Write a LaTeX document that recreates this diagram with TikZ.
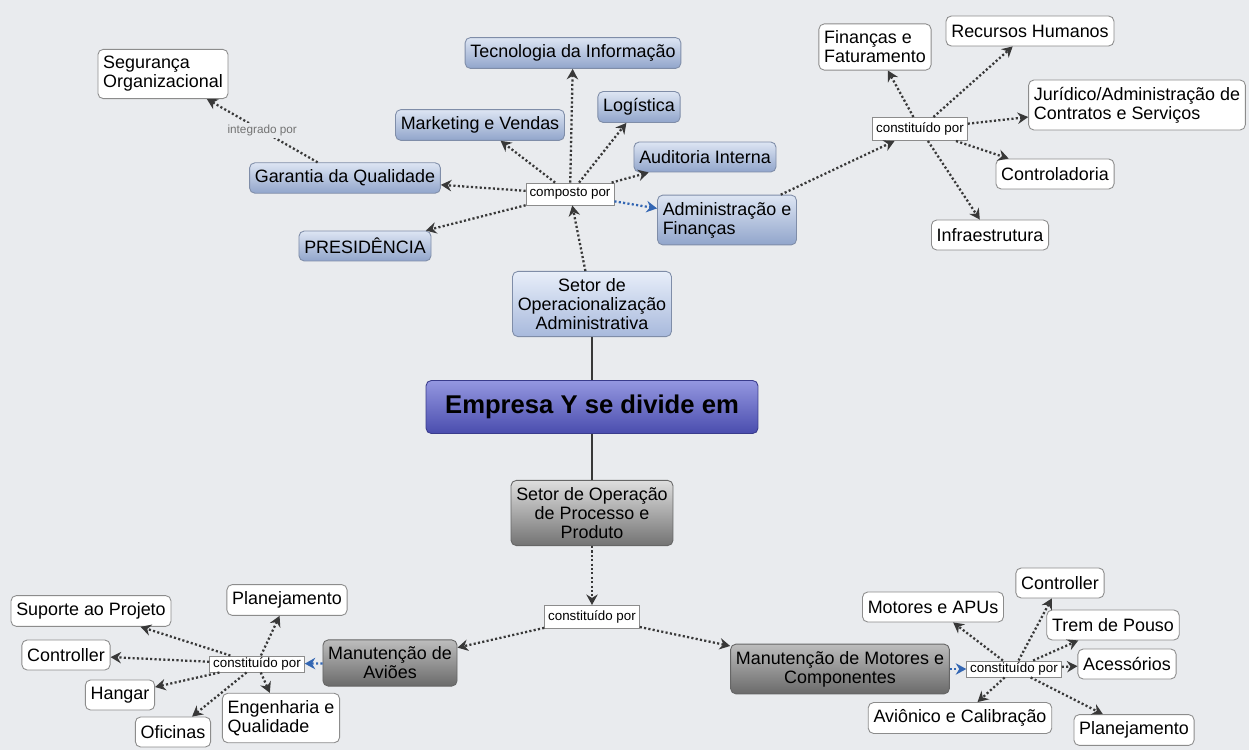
\documentclass[tikz,border=0pt]{standalone}
\usepackage{fontspec}
\setmainfont{Liberation Sans}
\usetikzlibrary{arrows.meta, positioning, shadings}
\definecolor{bgpaper}{HTML}{E9EBEE}
\definecolor{cblueT}{HTML}{DDE5F3}
\definecolor{cblueB}{HTML}{91A5CB}
\definecolor{cblueD}{HTML}{7F8DA8}
\definecolor{csetT}{HTML}{E8EEF9}
\definecolor{csetB}{HTML}{A7B9DC}
\definecolor{cviolT}{HTML}{9497E0}
\definecolor{cviolB}{HTML}{4A4DAE}
\definecolor{cviolD}{HTML}{3A3C8C}
\definecolor{cgreyT}{HTML}{BDBDBD}
\definecolor{cgreyB}{HTML}{6A6A6A}
\definecolor{cline}{HTML}{383838}
\definecolor{clink}{HTML}{3366B3}
\tikzset{
  >=Stealth,
  font=\fontsize{10.2}{10.8}\selectfont,
  concept/.style={
    draw=#1, line width=0.5pt, rounded corners=3pt,
    inner xsep=3pt, inner ysep=4pt, minimum height=0.6cm, align=center
  },
  concept/.default=black!45,
  bluebox/.style={concept=cblueD, top color=cblueT, bottom color=cblueB},
  setbox/.style={concept=cblueD, top color=csetT, bottom color=csetB},
  greybox/.style={concept=black!60, top color=cgreyT, bottom color=cgreyB},
  whitebox/.style={concept, fill=white},
  linkbox/.style={
    draw=black!45, fill=white, line width=0.5pt, inner xsep=2pt, inner ysep=3pt,
    font=\fontsize{7.6}{8}\selectfont
  },
  dotarr/.style={draw=cline, line width=1.3pt, dash pattern=on 1.2pt off 1.3pt,
    -{Stealth[length=6pt,width=6.5pt,inset=2pt]}},
  bluearr/.style={dotarr, draw=clink},
  trunk/.style={draw=cline, line width=1.2pt}
}

\begin{document}
\begin{tikzpicture}[x=0.02cm, y=-0.02cm]
  \fill[bgpaper] (0,0) rectangle (1249,750);
  \useasboundingbox (0,0) rectangle (1249,750);

  % centre
  \node[concept=cviolD, top color=cviolT, bottom color=cviolB,
        minimum width=6.64cm, minimum height=1.06cm,
        font=\fontsize{14.6}{16}\selectfont\bfseries] (empresa) at (592,407) {Empresa Y se divide em};
  \node[setbox] (setadm) at (592,304) {Setor de\\Operacionalização\\Administrativa};
  \node[greybox, top color=black!13, bottom color=black!55] (setproc) at (592,513) {Setor de Operação\\de Processo e\\Produto};
  \draw[trunk] (setadm) -- (empresa);
  \draw[trunk] (empresa) -- (setproc);

  % administrative side
  \node[linkbox] (composto) at (570,194) {composto por};
  \node[bluebox] (tecinfo) at (573,53) {Tecnologia da Informação};
  \node[bluebox] (logist) at (639,107) {Logística};
  \node[bluebox] (mkt) at (480,125) {Marketing e Vendas};
  \node[bluebox] (audit) at (705,157) {Auditoria Interna};
  \node[bluebox, align=left] (admfin) at (727,220) {Administração e\\Finanças};
  \node[bluebox] (garantia) at (345,178) {Garantia da Qualidade};
  \node[bluebox] (presid) at (365,246) {PRESIDÊNCIA};
  \node[whitebox, align=left] (seguranca) at (163,74) {Segurança\\Organizacional};

  \draw[dotarr] (setadm) -- (composto);
  \foreach \dst in {tecinfo, logist, mkt, audit, garantia, presid}
    \draw[dotarr] (composto) -- (\dst);
  \draw[bluearr] (composto) -- (admfin);
  \draw[dotarr] (garantia) -- node[pos=0.5, fill=bgpaper, inner sep=1pt, text=black!55,
    font=\fontsize{6.7}{7}\selectfont] {integrado por} (seguranca);

  \node[linkbox] (constfin) at (920,129) {constituído por};
  \node[whitebox, align=left] (finfat) at (875,47) {Finanças e\\Faturamento};
  \node[whitebox] (rh) at (1030,31) {Recursos Humanos};
  \node[whitebox, align=left] (juridico) at (1137,105) {Jurídico/Administração de\\Contratos e Serviços};
  \node[whitebox] (controlad) at (1055,174) {Controladoria};
  \node[whitebox] (infra) at (990,235) {Infraestrutura};
  \draw[dotarr] (admfin) -- (constfin);
  \foreach \dst in {finfat, rh, juridico, controlad, infra}
    \draw[dotarr] (constfin) -- (\dst);

  % process side
  \node[linkbox] (constmid) at (592,617) {constituído por};
  \node[greybox] (manavioes) at (390,663) {Manutenção de\\Aviões};
  \node[greybox] (manmotores) at (840,669) {Manutenção de Motores e\\Componentes};
  \draw[dotarr] (setproc) -- (constmid);
  \draw[dotarr] (constmid) -- (manavioes);
  \draw[dotarr] (constmid) -- (manmotores);

  \node[linkbox, inner ysep=1pt] (constleft) at (257,664) {constituído por};
  \node[whitebox] (suporte) at (91,611) {Suporte ao Projeto};
  \node[whitebox] (planleft) at (287,600) {Planejamento};
  \node[whitebox] (ctrlleft) at (66,655) {Controller};
  \node[whitebox] (hangar) at (120,695) {Hangar};
  \node[whitebox] (oficinas) at (173,732) {Oficinas};
  \node[whitebox, align=left] (engqual) at (281,718) {Engenharia e\\Qualidade};
  \draw[bluearr] (manavioes) -- (constleft);
  \foreach \dst in {suporte, planleft, ctrlleft, hangar, oficinas, engqual}
    \draw[dotarr] (constleft) -- (\dst);

  \node[linkbox, inner ysep=1pt] (constright) at (1014,669) {constituído por};
  \node[whitebox] (ctrlright) at (1060,583) {Controller};
  \node[whitebox] (motores) at (933,607) {Motores e APUs};
  \node[whitebox] (trem) at (1113,625) {Trem de Pouso};
  \node[whitebox] (acess) at (1127,664) {Acessórios};
  \node[whitebox] (avionico) at (960,718) {Aviônico e Calibração};
  \node[whitebox] (planright) at (1134,730) {Planejamento};
  \draw[bluearr] (manmotores) -- (constright);
  \foreach \dst in {ctrlright, motores, trem, acess, avionico, planright}
    \draw[dotarr] (constright) -- (\dst);
\end{tikzpicture}
\end{document}
